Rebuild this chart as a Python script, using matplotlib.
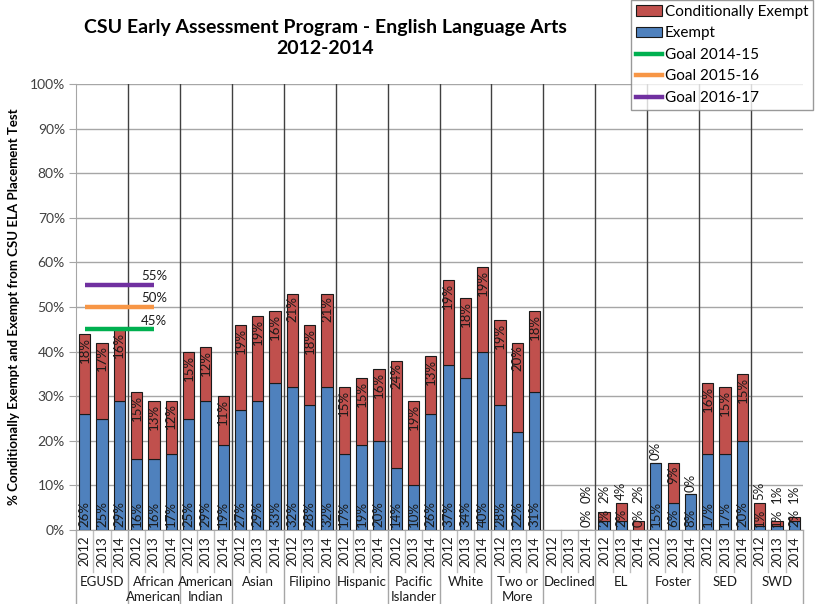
import numpy as np
import matplotlib.pyplot as plt
from matplotlib.patches import Patch
from matplotlib.lines import Line2D

plt.rcParams['font.family'] = ['Lato', 'DejaVu Sans']

groups = ["EGUSD", "African\nAmerican", "American\nIndian", "Asian", "Filipino",
          "Hispanic", "Pacific\nIslander", "White", "Two or\nMore", "Declined",
          "EL", "Foster", "SED", "SWD"]
years = ["2012", "2013", "2014"]
nan = np.nan
exempt = [26, 25, 29, 16, 16, 17, 25, 29, 19, 27, 29, 33, 32, 28, 32,
          17, 19, 20, 14, 10, 26, 37, 34, 40, 28, 22, 31, nan, nan, 0,
          2, 2, 0, 15, 6, 8, 17, 17, 20, 1, 1, 2]
cond = [18, 17, 16, 15, 13, 12, 15, 12, 11, 19, 19, 16, 21, 18, 21,
        15, 15, 16, 24, 19, 13, 19, 18, 19, 19, 20, 18, nan, nan, 0,
        2, 4, 2, 0, 9, 0, 16, 15, 15, 5, 1, 1]
goal_names = ["Goal 2014-15", "Goal 2015-16", "Goal 2016-17"]
goal_values = [45, 50, 55]
goal_span = 5  # first five categories carry the goal series

c_red = "#C0504D"
c_blue = "#4F81BD"
goal_colors = ["#00B050", "#F79646", "#7030A0"]

fig = plt.figure(figsize=(8.17, 6.04), dpi=100)
ax = fig.add_axes([76 / 817, 1 - 530 / 604, (803 - 76) / 817, (530 - 84) / 604])

n = len(exempt)
x = np.arange(n)
e = np.array(exempt, dtype=float)
c = np.array(cond, dtype=float)

ax.bar(x, e, width=0.65, color=c_blue, edgecolor="#1a1a1a", linewidth=0.8, zorder=3)
ax.bar(x, c, bottom=e, width=0.65, color=c_red, edgecolor="#1a1a1a", linewidth=0.8, zorder=3)

# goal lines
for val, col in zip(goal_values, goal_colors):
    gx = np.arange(goal_span)
    ax.plot(gx, [val] * goal_span, color=col, lw=3.2, solid_capstyle="butt", zorder=4)
    ax.annotate(f"{val}%", (gx[-1], val), xytext=(0, 2), textcoords="offset points",
                ha="center", va="bottom", fontsize=9.5, color="#1a1a1a", zorder=5)

# data labels
lab_fs = 9.5
lab_len = 5.4  # approx. rotated label length in % units
for i in range(n):
    if np.isnan(e[i]):
        continue
    top = e[i] + c[i]
    ax.annotate(f"{int(e[i])}%", (i, 0), xytext=(0, 2), textcoords="offset points",
                rotation=90, ha="center", va="bottom", fontsize=lab_fs, color="#1a1a1a", zorder=5)
    e_end = max(e[i], lab_len)
    if c[i] >= 4.5 and top - lab_len >= e_end - 0.5:
        ax.annotate(f"{int(c[i])}%", (i, top), xytext=(0, -2), textcoords="offset points",
                    rotation=90, ha="center", va="top", fontsize=lab_fs, color="#1a1a1a", zorder=5)
    else:
        ax.annotate(f"{int(c[i])}%", (i, max(top, e_end)), xytext=(0, 2), textcoords="offset points",
                    rotation=90, ha="center", va="bottom", fontsize=lab_fs, color="#1a1a1a", zorder=5)

ax.set_xlim(-0.5, n - 0.5)
ax.set_ylim(0, 100)
ax.set_yticks(np.arange(0, 101, 10))
ax.set_yticklabels([f"{v}%" for v in range(0, 101, 10)], fontsize=10, color="#404040")
ax.tick_params(axis="y", length=5, color="#A6A6A6", pad=3)
ax.set_xticks([])
ax.yaxis.grid(True, color="#A6A6A6", lw=1, zorder=0)
for s in ["top", "right"]:
    ax.spines[s].set_visible(False)
for s in ["left", "bottom"]:
    ax.spines[s].set_color("#A6A6A6")

# group separators inside plot
for k in range(1, len(groups)):
    ax.axvline(3 * k - 0.5, color="#404040", lw=1.0, zorder=2)

# two-level category axis
tr = ax.get_xaxis_transform()
for i in range(n + 1):
    if i % 3 == 0:
        ax.plot([i - 0.5, i - 0.5], [0, -0.166], transform=tr, color="#A6A6A6", lw=1, clip_on=False)
    else:
        ax.plot([i - 0.5, i - 0.5], [0, -0.094], transform=tr, color="#BFBFBF", lw=1, clip_on=False)
for i in range(n):
    ax.text(i, -0.013, years[i % 3], transform=tr, rotation=90, ha="center", va="top",
            fontsize=9.5, color="#1a1a1a")
for k, g in enumerate(groups):
    ax.text(3 * k + 1, -0.104, g, transform=tr, ha="center", va="top",
            fontsize=9.5, color="#1a1a1a", linespacing=1.25)

ax.set_ylabel("% Conditionally Exempt and Exempt from CSU ELA Placement Test",
              fontsize=9.5, fontweight="bold", labelpad=7)

fig.text(325 / 817, 1 - 38 / 604, "CSU Early Assessment Program - English Language Arts\n2012-2014",
         ha="center", va="center", fontsize=14, fontweight="bold", linespacing=1.25)

handles = [Patch(facecolor=c_red, edgecolor="#1a1a1a", lw=0.8),
           Patch(facecolor=c_blue, edgecolor="#1a1a1a", lw=0.8)]
handles += [Line2D([], [], color=col, lw=3.2) for col in goal_colors]
labels = ["Conditionally Exempt", "Exempt"] + goal_names
leg = fig.legend(handles, labels, loc="upper right", bbox_to_anchor=(813 / 817, 1.0),
                 fontsize=11, frameon=True, fancybox=False, edgecolor="#808080",
                 handlelength=1.7, handletextpad=0.2, labelspacing=0.5, borderpad=0.3,
                 borderaxespad=0)
leg.get_frame().set_linewidth(1)

fig.savefig("out.png", dpi=100)
